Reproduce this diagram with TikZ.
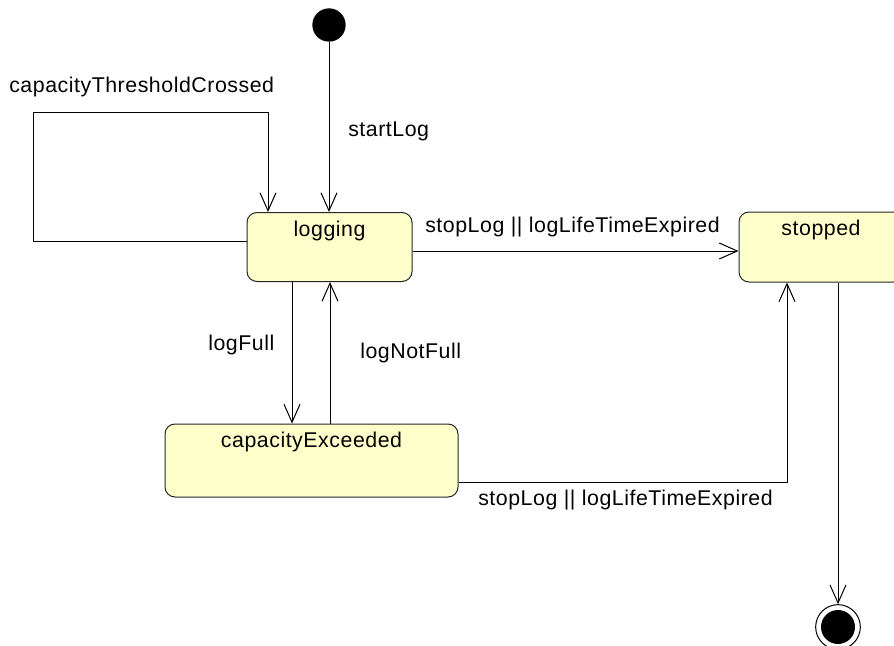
\documentclass[tikz,border=0pt]{standalone}
\usepackage{fontspec}
\setmainfont{Liberation Sans}[LetterSpace=2.5]
\usetikzlibrary{arrows.meta}

\definecolor{statefill}{HTML}{FFFFCC}

\tikzset{
	state/.style={draw=black!85, fill=statefill, line width=0.75pt, rounded corners=7.5pt, inner sep=0pt},
	statename/.style={anchor=north, yshift=-3pt},
	initstate/.style={circle, fill=black, minimum size=25pt, inner sep=0pt},
	finalstate/.style={circle, draw, line width=0.75pt, minimum size=33.5pt, inner sep=0pt,
		path picture={\fill[black] (path picture bounding box.center) circle (12.75pt);}},
	trans/.style={line width=0.75pt, -{Straight Barb[length=13.5pt,width=12pt]}},
	event/.style={inner sep=0pt, anchor=base west}
}

\begin{document}
\begin{tikzpicture}[x=0.75pt, y=-0.75pt, every node/.style={font=\fontsize{16}{19}\selectfont}]
			%%%%% START %%%%%
			\useasboundingbox (0,0) rectangle (894,646);
			
			\node[initstate] (init) at (329,25) {};
			\node[state, minimum width=123.75pt, minimum height=51.75pt, label={[statename]north:logging}] (logging) at (329.5,247) {};
			\node[state, minimum width=123pt, minimum height=52.5pt, label={[statename]north:stopped}] (stopped) at (821,247) {};
			\node[state, minimum width=219.75pt, minimum height=54.75pt, label={[statename]north:capacityExceeded}] (capEx) at (311.5,460.5) {};
			\node[finalstate] (final) at (838,627) {};
			
			\draw[trans] (init) -- (init |- logging.north);
			\node[event] at (348,136) {startLog};
			
			\draw[trans] ([yshift=4.5pt]logging.west) -| (33,112) -| (logging.north -| 268,0);
			\node[event] at (9,92) {capacityThresholdCrossed};
			
			\draw[trans] ([yshift=-3pt]logging.east) -- ([yshift=-3pt]stopped.west);
			\node[event] at (425,232) {stopLog || logLifeTimeExpired};
			
			\draw[trans] (logging.south -| 292,0) -- (capEx.north -| 292,0);
			\node[event] at (208,350) {logFull};
			
			\draw[trans] (capEx.north -| 330,0) -- (logging.south -| 330,0);
			\node[event] at (360,358) {logNotFull};
			
			\draw[trans] (capEx.east |- 0,482) -| (stopped.south -| 787,0);
			\node[event] at (478,505) {stopLog || logLifeTimeExpired};
			
			\draw[trans] (stopped.south -| final) -- (final);
			
			%%%%% END %%%%%
\end{tikzpicture}
\end{document}
